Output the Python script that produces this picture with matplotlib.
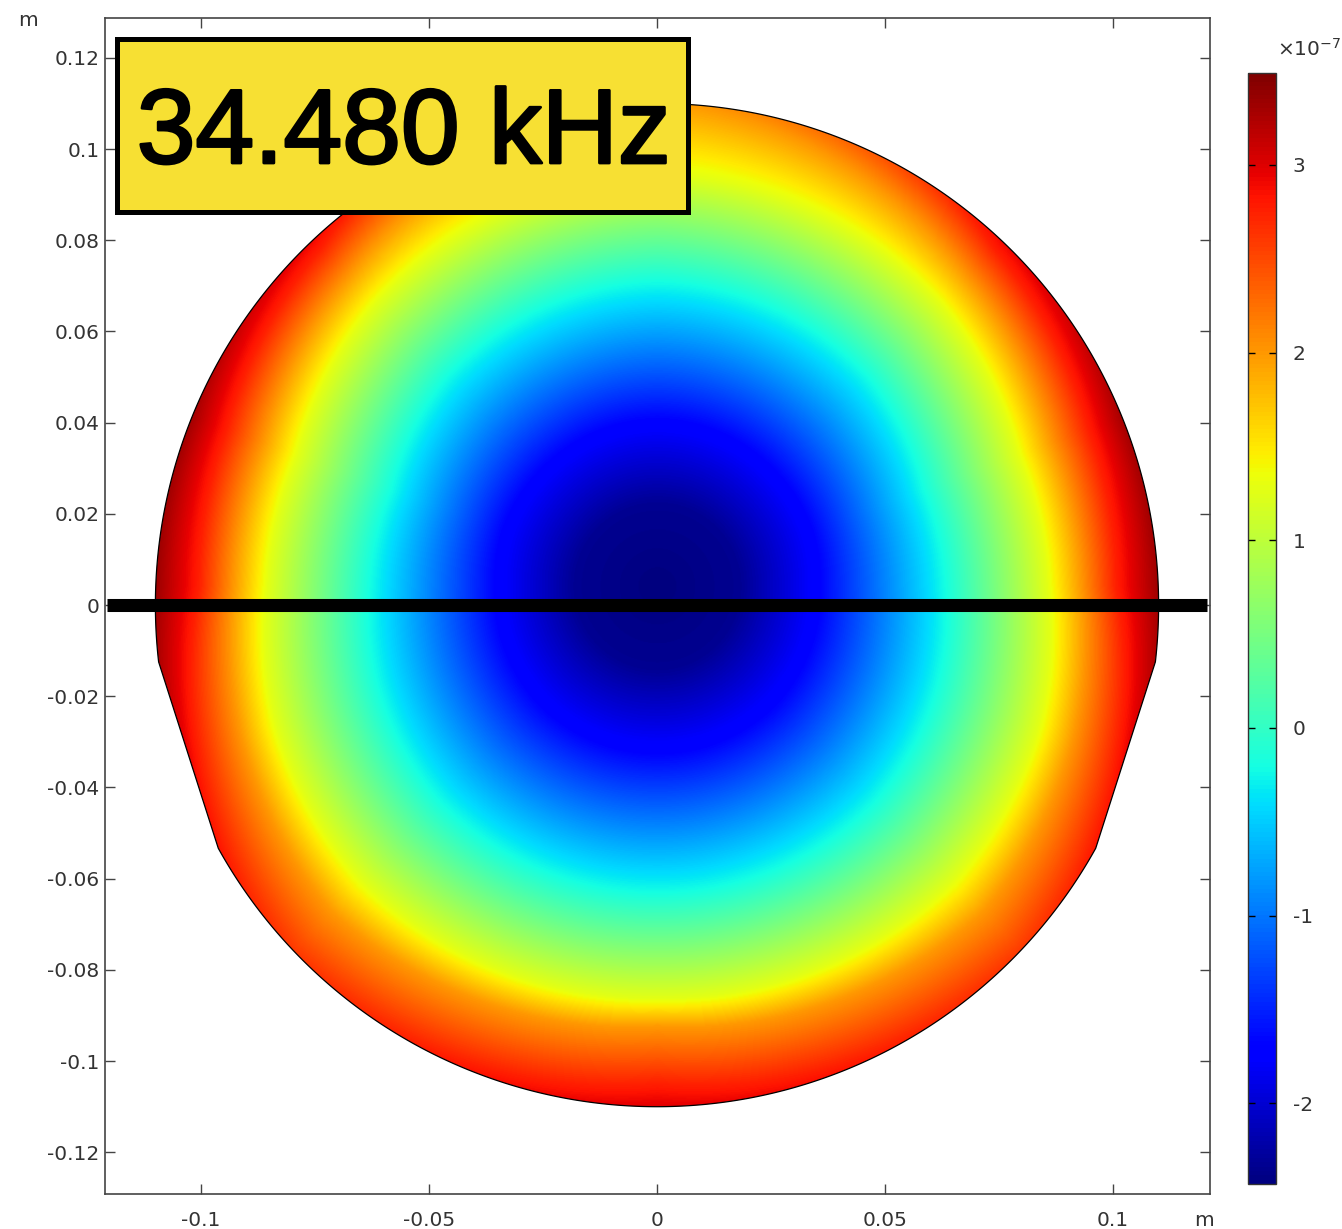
import numpy as np
import matplotlib
matplotlib.use("Agg")
import matplotlib.pyplot as plt
from matplotlib.patches import Polygon, Rectangle
from matplotlib import patheffects as pe

plt.rcParams['font.family'] = ['DejaVu Sans']
plt.rcParams['axes.unicode_minus'] = False

# ---------------- data (values x 1e-7, lengths in m) ----------------
freq_label = "34.480 kHz"
x_ticks = [-0.1, -0.05, 0, 0.05, 0.1]
x_tick_labels = ["-0.1", "-0.05", "0", "0.05", "0.1"]
y_ticks = [0.12, 0.1, 0.08, 0.06, 0.04, 0.02, 0, -0.02, -0.04, -0.06, -0.08, -0.1, -0.12]
y_tick_labels = ["0.12", "0.1", "0.08", "0.06", "0.04", "0.02", "0",
                 "-0.02", "-0.04", "-0.06", "-0.08", "-0.1", "-0.12"]
cbar_ticks = [-2, -1, 0, 1, 2, 3]
cbar_tick_labels = ["-2", "-1", "0", "1", "2", "3"]
cbar_min, cbar_max = -2.43, 3.49

# disc geometry
disc_radius = 0.11
chord_left_deg = (186.6, 208.8)    # straight cut, lower left
chord_right_deg = (331.2, 353.4)   # straight cut, lower right
field_center = (0.0, 0.004)

# field levels and the radius (from field_center) where each level is read,
# along several directions (angle above horizontal, mirrored left/right)
field_levels = [-2.43, -2.33, -1.69, -0.21, 1.27, 2.00, 2.75, 3.49]
dir_angles = [-90, -45, -20, 0, 20, 45, 90]
radii_down = [0, 0.018, 0.0365, 0.0670, 0.0904, 0.0965, 0.1090, 0.1250]
radii_down_diag = [0, 0.018, 0.0365, 0.0670, 0.0915, 0.1010, 0.1160, 0.1280]
radii_down_side = [0, 0.018, 0.0360, 0.0650, 0.0890, 0.0970, 0.1070, 0.1170]
radii_side = [0, 0.018, 0.0355, 0.0630, 0.0855, 0.0930, 0.1005, 0.1125]
radii_up_side = [0, 0.018, 0.0360, 0.0620, 0.0840, 0.0920, 0.1005, 0.1115]
radii_up_diag = [0, 0.018, 0.0360, 0.0650, 0.0875, 0.0960, 0.1045, 0.1170]
radii_up = [0, 0.018, 0.0365, 0.0667, 0.0905, 0.1070, 0.1210, 0.1340]

probe_line_x = (-0.1206, 0.1206)
probe_line_y = 0.0

# ---------------- figure ----------------
W, H = 1342, 1229
fig = plt.figure(figsize=(W / 100, H / 100), dpi=100)
ax = fig.add_axes([105 / W, 1 - 1195 / H, 1105 / W, 1178 / H])
ax.set_xlim(-0.12105, 0.12127)
ax.set_ylim(-0.1292, 0.1288)

# field
radii_table = np.array([radii_down, radii_down_diag, radii_down_side, radii_side,
                        radii_up_side, radii_up_diag, radii_up])
levels = np.array(field_levels)
n = 1100
xs = np.linspace(-0.113, 0.113, n)
ys = np.linspace(-0.113, 0.113, n)
X, Y = np.meshgrid(xs, ys)
dx = X - field_center[0]
dy = Y - field_center[1]
r = np.hypot(dx, dy)
phi = np.degrees(np.arctan2(dy, np.abs(dx)))
R = np.stack([np.interp(phi, dir_angles, radii_table[:, k]) for k in range(len(levels))])
V = np.full(r.shape, levels[-1])
for k in range(len(levels) - 1):
    m = (r >= R[k]) & (r < R[k + 1])
    t = (r - R[k]) / (R[k + 1] - R[k])
    V[m] = levels[k] + t[m] * (levels[k + 1] - levels[k])

im = ax.imshow(V, cmap='jet', vmin=cbar_min, vmax=cbar_max, origin='lower',
               extent=[xs[0], xs[-1], ys[0], ys[-1]], interpolation='bilinear',
               zorder=1)

# domain boundary
th = np.linspace(0, 360, 1441)
keep = ~(((th > chord_left_deg[0]) & (th < chord_left_deg[1])) |
         ((th > chord_right_deg[0]) & (th < chord_right_deg[1])))
th = np.radians(th[keep])
verts = np.column_stack([disc_radius * np.cos(th), disc_radius * np.sin(th)])
poly = Polygon(verts, closed=True, facecolor='none', edgecolor='black', lw=0.9, zorder=3)
ax.add_patch(poly)
im.set_clip_path(poly)

# probe line
ax.plot(probe_line_x, [probe_line_y, probe_line_y], color='black', lw=9.4,
        solid_capstyle='butt', zorder=4)

# axes styling
ax.set_xticks(x_ticks)
ax.set_xticklabels(x_tick_labels)
ax.set_yticks(y_ticks)
ax.set_yticklabels(y_tick_labels)
for s in ax.spines.values():
    s.set_color('#444444')
    s.set_linewidth(1.2)
ax.tick_params(axis='both', direction='in', length=7.5, width=1.0, color='#444444',
               top=True, right=True, labelsize=14.5, labelcolor='#333333')
ax.tick_params(axis='x', pad=12)
ax.tick_params(axis='y', pad=4)

fig.text(28 / W, 1 - 20 / H, "m", fontsize=14.5, color='#333333', ha='center', va='center')
fig.text(1204 / W, 1 - 1220 / H, "m", fontsize=14.5, color='#333333', ha='center', va='center')

# colorbar
cax = fig.add_axes([1248 / W, 1 - 1184 / H, 28 / W, 1111 / H])
cb = fig.colorbar(im, cax=cax)
cb.set_ticks(cbar_ticks)
cb.set_ticklabels(cbar_tick_labels)
cb.outline.set_edgecolor('#333333')
cb.outline.set_linewidth(1.0)
cax.tick_params(axis='y', direction='in', length=5, width=1.0, color='black',
                left=True, right=True, labelleft=False, labelright=True,
                pad=12, labelsize=14.5, labelcolor='#333333')
fig.text(1277 / W, 1 - 49 / H, r"$\times10^{-7}$", fontsize=14.5, color='#333333',
         ha='left', va='center')

# frequency label box
bx0, bx1, by0, by1 = 116.5, 687.5, 39.5, 211.5
fig.add_artist(Rectangle((bx0 / W, 1 - by1 / H), (bx1 - bx0) / W, (by1 - by0) / H,
                         transform=fig.transFigure, facecolor='#F7E033',
                         edgecolor='black', lw=3.6, zorder=10))
t = fig.text(403.5 / W, 1 - 163 / H, freq_label, fontsize=76, family='Liberation Sans',
             color='black', ha='center', va='baseline', zorder=11)
t.set_path_effects([pe.withStroke(linewidth=2.0, foreground='black')])

fig.savefig("out.png", dpi=100, facecolor='white')
